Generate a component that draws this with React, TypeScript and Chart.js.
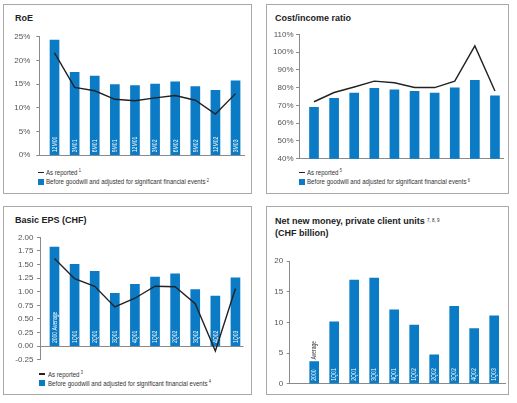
import React, { useEffect, useRef } from "react";
import { Chart, registerables } from "chart.js";
Chart.register(...registerables);

// ---------- data ----------
const roeCategories = ["12M00", "3M01", "6M01", "9M01", "12M01", "3M02", "6M02", "9M02", "12M02", "3M03"];
const roeAdjusted = [24.3, 17.5, 16.7, 14.9, 14.7, 15.0, 15.5, 14.5, 13.7, 15.7];
const roeReported = [21.6, 14.3, 13.6, 11.8, 11.5, 12.1, 12.6, 11.6, 8.7, 13.0];

const costCategories = ["2000", "1Q01", "2Q01", "3Q01", "4Q01", "1Q02", "2Q02", "3Q02", "4Q02", "1Q03"];
const costAdjusted = [69.0, 74.0, 77.0, 79.7, 78.8, 77.9, 77.0, 80.0, 84.1, 75.4];
const costReported = [72.1, 77.3, 80.4, 83.7, 82.8, 80.1, 80.1, 83.7, 103.6, 78.2];

const epsCategories = ["2000 Average", "1Q01", "2Q01", "3Q01", "4Q01", "1Q02", "2Q02", "3Q02", "4Q02", "1Q03"];
const epsAdjusted = [1.82, 1.505, 1.375, 0.97, 1.135, 1.27, 1.33, 1.04, 0.92, 1.255];
const epsReported = [1.61, 1.24, 1.10, 0.72, 0.88, 1.10, 1.09, 0.78, -0.09, 1.06];

const nnmCategories = ["2000", "1Q01", "2Q01", "3Q01", "4Q01", "1Q02", "2Q02", "3Q02", "4Q02", "1Q03"];
const nnmValues = [3.6, 10.1, 16.9, 17.2, 12.05, 9.55, 4.7, 12.6, 9.0, 11.05];
const nnmNote = "Average";

const legendReported = "As reported";
const legendAdjusted = "Before goodwill and adjusted for significant financial events";

// ---------- styles ----------
const BLUE = "#0a7bc4";
const LINE = "#222222";
const AXIS = "#8a8a8a";
const SANS = "'Liberation Sans', Arial, sans-serif";
const SQUEEZE = 0.78;
const LEGEND_SQUEEZE = 0.87;

const barLabelPlugin = {
  id: "barLabels",
  afterDatasetDraw(chart: any, args: any, opts: any) {
    if (args.index !== 0 || !opts || !opts.labels) return;
    const meta = chart.getDatasetMeta(0);
    const ctx = chart.ctx;
    ctx.save();
    ctx.font = `6.5px ${SANS}`;
    ctx.textBaseline = "middle";
    ctx.textAlign = "left";
    meta.data.forEach((el: any, i: number) => {
      const p = el.getProps(["x", "y", "base"], true);
      ctx.save();
      ctx.translate(p.x, p.base - 2.5);
      ctx.rotate(-Math.PI / 2);
      ctx.scale(SQUEEZE, 1);
      ctx.fillStyle = "#ffffff";
      ctx.fillText(opts.labels[i], 0, 0.5);
      ctx.restore();
      if (opts.note && opts.noteIndex === i) {
        ctx.save();
        ctx.translate(p.x, p.y - 2);
        ctx.rotate(-Math.PI / 2);
        ctx.scale(SQUEEZE, 1);
        ctx.fillStyle = "#333333";
        ctx.fillText(opts.note, 0, 0.5);
        ctx.restore();
      }
    });
    ctx.restore();
  },
};

type Spec = {
  canvas: { left: number; top: number; width: number; height: number };
  area: { l: number; t: number; r: number; b: number };
  xMin: number;
  xMax: number;
  yMin: number;
  yMax: number;
  yStep: number;
  tickPad: number;
  fmt: (v: number) => string;
  categories: string[];
  bars: number[];
  line?: number[];
  zeroLine?: boolean;
  note?: string;
};

function BarChart({ spec }: { spec: Spec }) {
  const ref = useRef<HTMLCanvasElement | null>(null);
  useEffect(() => {
    const c = spec.canvas;
    const a = spec.area;
    const datasets: any[] = [
      {
        type: "bar",
        data: spec.bars.map((v, i) => ({ x: i, y: v })),
        backgroundColor: BLUE,
        barThickness: 9,
        order: 2,
      },
    ];
    if (spec.line) {
      datasets.push({
        type: "line",
        data: spec.line.map((v, i) => ({ x: i, y: v })),
        borderColor: LINE,
        borderWidth: 1.4,
        pointRadius: 0,
        tension: 0,
        fill: false,
        order: 1,
      });
    }
    const chart = new Chart(ref.current as HTMLCanvasElement, {
      type: "bar",
      data: { datasets },
      options: {
        animation: false,
        responsive: false,
        devicePixelRatio: 1,
        layout: {
          padding: {
            left: 0,
            top: a.t - c.top,
            bottom: c.top + c.height - a.b,
            right: c.left + c.width - a.r,
          },
        },
        plugins: {
          legend: { display: false },
          tooltip: { enabled: false },
          barLabels: {
            labels: spec.categories,
            note: spec.note,
            noteIndex: 0,
          },
        } as any,
        scales: {
          x: {
            type: "linear",
            offset: false,
            min: spec.xMin,
            max: spec.xMax,
            ticks: { display: false },
            grid: { display: false, offset: false },
            border: { display: !spec.zeroLine, color: AXIS, width: 1 },
            afterFit: (s: any) => {
              s.height = 0;
            },
          },
          y: {
            min: spec.yMin,
            max: spec.yMax,
            ticks: {
              stepSize: spec.yStep,
              padding: spec.tickPad,
              color: "#555555",
              font: { size: 8, family: SANS },
              callback: (v: any) => spec.fmt(Number(v)),
            },
            grid: {
              drawOnChartArea: !!spec.zeroLine,
              color: (ctx: any) =>
                spec.zeroLine && ctx.tick && Math.abs(ctx.tick.value) < 1e-9 ? AXIS : "rgba(0,0,0,0)",
              tickColor: AXIS,
              tickLength: 3,
              drawTicks: true,
            },
            border: { display: true, color: AXIS, width: 1 },
            afterFit: (s: any) => {
              s.width = a.l - c.left;
            },
          },
        },
      },
      plugins: [barLabelPlugin],
    } as any);
    return () => chart.destroy();
  }, [spec]);
  const c = spec.canvas;
  return (
    <canvas
      ref={ref}
      width={c.width}
      height={c.height}
      style={{ position: "absolute", left: c.left, top: c.top, width: c.width, height: c.height }}
    />
  );
}

function Panel({ left, top, width, height }: { left: number; top: number; width: number; height: number }) {
  return (
    <div
      style={{
        position: "absolute",
        left,
        top,
        width,
        height,
        border: "1px solid #a8a8a8",
        boxSizing: "border-box",
      }}
    />
  );
}

const supStyle: React.CSSProperties = {
  fontSize: 4.5,
  position: "relative",
  top: -2.5,
  marginLeft: 1.5,
};

function Legend({ x, y, sup1, sup2 }: { x: number; y: number; sup1: string; sup2: string }) {
  const row = (cy: number, kind: "line" | "box", text: string, sup: string) => (
    <div
      style={{
        position: "absolute",
        left: x,
        top: cy - 5,
        height: 10,
        display: "flex",
        alignItems: "center",
        whiteSpace: "nowrap",
        font: `7px ${SANS}`,
        color: "#333",
      }}
    >
      {kind === "line" ? (
        <span style={{ display: "inline-block", width: 6, height: 1.5, background: LINE, marginRight: 2.5 }} />
      ) : (
        <span style={{ display: "inline-block", width: 6, height: 6, background: BLUE, marginRight: 2.5 }} />
      )}
      <span style={{ display: "inline-block", transform: `scaleX(${LEGEND_SQUEEZE})`, transformOrigin: "left center" }}>
        {text}
        <span style={supStyle}>{sup}</span>
      </span>
    </div>
  );
  return (
    <>
      {row(y, "line", legendReported, sup1)}
      {row(y + 9.4, "box", legendAdjusted, sup2)}
    </>
  );
}

function Title({ x, y, children }: { x: number; y: number; children: React.ReactNode }) {
  return (
    <div
      style={{
        position: "absolute",
        left: x,
        top: y - 5,
        height: 10,
        lineHeight: "10px",
        font: `bold 9px ${SANS}`,
        color: "#222",
        whiteSpace: "nowrap",
      }}
    >
      {children}
    </div>
  );
}

const pct = (v: number) => `${Math.round(v)}%`;

const roeSpec: Spec = {
  canvas: { left: 4, top: 26, width: 246, height: 140 },
  area: { l: 39.3, t: 35, r: 244, b: 160 },
  xMin: -0.756,
  xMax: 9.42,
  yMin: 0,
  yMax: 25,
  yStep: 5,
  tickPad: 6,
  fmt: pct,
  categories: roeCategories,
  bars: roeAdjusted,
  line: roeReported,
};

const costSpec: Spec = {
  canvas: { left: 267, top: 26, width: 241, height: 140 },
  area: { l: 299, t: 34.5, r: 503, b: 161 },
  xMin: -0.746,
  xMax: 9.4,
  yMin: 40,
  yMax: 110,
  yStep: 10,
  tickPad: 2.5,
  fmt: pct,
  categories: costCategories,
  bars: costAdjusted,
  line: costReported,
};

const epsSpec: Spec = {
  canvas: { left: 4, top: 228, width: 246, height: 140 },
  area: { l: 40, t: 237.3, r: 243.5, b: 363.3 },
  xMin: -0.72,
  xMax: 9.4,
  yMin: -0.25,
  yMax: 2,
  yStep: 0.25,
  tickPad: 3.5,
  fmt: (v: number) => (Math.abs(v) < 1e-9 ? "0.00" : v.toFixed(2)),
  categories: epsCategories,
  bars: epsAdjusted,
  line: epsReported,
  zeroLine: true,
};

const nnmSpec: Spec = {
  canvas: { left: 267, top: 252, width: 241, height: 140 },
  area: { l: 289.7, t: 261, r: 505, b: 386.7 },
  xMin: -1.225,
  xMax: 9.54,
  yMin: 0,
  yMax: 20,
  yStep: 5,
  tickPad: 3.5,
  fmt: (v: number) => `${Math.round(v)}`,
  categories: nnmCategories,
  bars: nnmValues,
  note: nnmNote,
};

export default function App() {
  return (
    <div
      style={{
        position: "absolute",
        left: 0,
        top: 0,
        width: 517,
        height: 403,
        background: "#fff",
        overflow: "hidden",
      }}
    >
      <Panel left={3} top={4} width={249} height={190} />
      <Panel left={266} top={4} width={243} height={190} />
      <Panel left={3} top={206} width={249} height={189} />
      <Panel left={266} top={206} width={243} height={189} />

      <Title x={15} y={17.7}>RoE</Title>
      <Title x={275} y={17.7}>Cost/income ratio</Title>
      <Title x={15} y={220}>Basic EPS (CHF)</Title>
      <Title x={275} y={221}>
        Net new money, private client units
        <span style={{ ...supStyle, fontWeight: "normal", marginLeft: 2 }}>7, 8, 9</span>
      </Title>
      <Title x={275} y={233.3}>(CHF billion)</Title>

      <BarChart spec={roeSpec} />
      <BarChart spec={costSpec} />
      <BarChart spec={epsSpec} />
      <BarChart spec={nnmSpec} />

      <Legend x={37.7} y={172.3} sup1="1" sup2="2" />
      <Legend x={298.7} y={172.3} sup1="5" sup2="6" />
      <Legend x={39.3} y={374} sup1="3" sup2="4" />
    </div>
  );
}
